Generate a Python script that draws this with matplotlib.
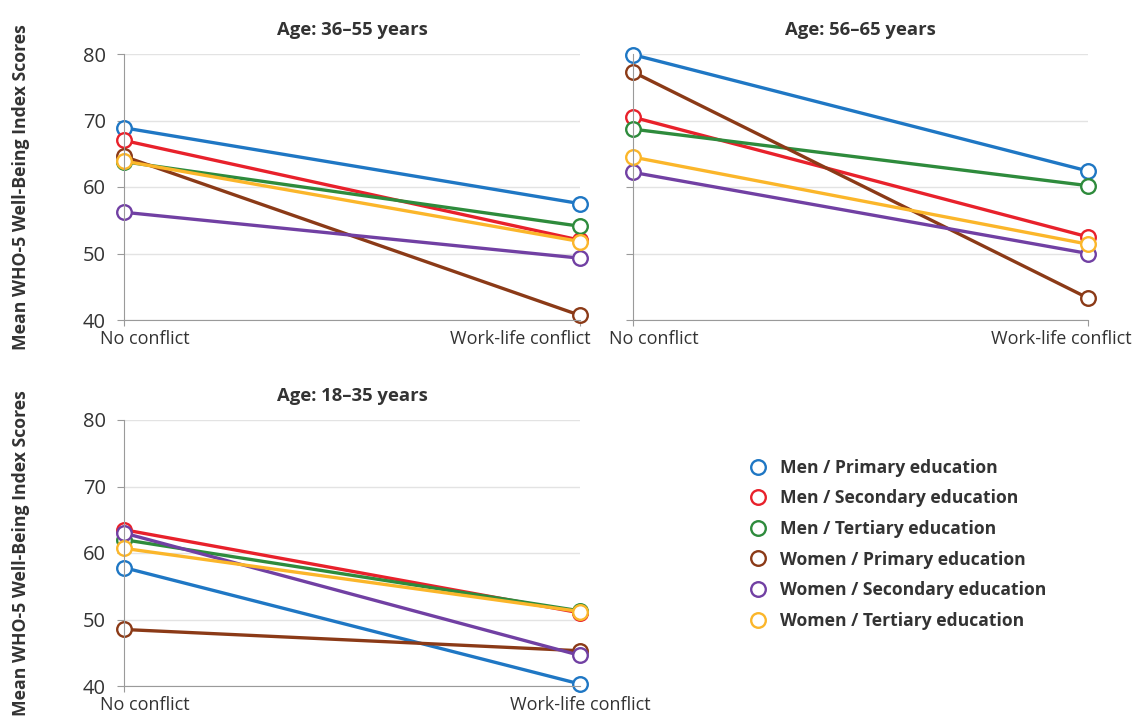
import matplotlib
matplotlib.use('Agg')
import matplotlib.pyplot as plt
from matplotlib.transforms import ScaledTranslation

plt.rcParams['font.family'] = ['Open Sans', 'DejaVu Sans']

conditions = ['No conflict', 'Work-life conflict']
groups = ['Men / Primary education', 'Men / Secondary education', 'Men / Tertiary education',
          'Women / Primary education', 'Women / Secondary education', 'Women / Tertiary education']
colors = ['#1f77c4', '#e8212b', '#2e8b3c', '#8b3a17', '#7140a3', '#fbb62a']

age_36_55 = [[68.9, 57.5], [67.0, 52.0], [63.8, 54.1], [64.6, 40.7], [56.2, 49.3], [63.9, 51.8]]
age_56_65 = [[79.9, 62.4], [70.5, 52.5], [68.7, 60.2], [77.3, 43.3], [62.2, 50.0], [64.5, 51.4]]
age_18_35 = [[57.8, 40.3], [63.5, 51.0], [62.0, 51.3], [48.5, 45.3], [63.0, 44.6], [60.7, 51.2]]

fig = plt.figure(figsize=(11.37, 7.2), dpi=100)

W, H = 1137, 720
panels = [
    ('Age: 36\u201355 years', age_36_55, [124, 54, 580, 320], (21, -60), True),
    ('Age: 56\u201365 years', age_56_65, [633, 54, 1088, 320], (21, -27), False),
    ('Age: 18\u201335 years', age_18_35, [124, 420, 580, 686], (21, 0), True),
]

axes = []
for title, data, (x0, y0, x1, y1), shifts, show_y in panels:
    ax = fig.add_axes([x0 / W, 1 - y1 / H, (x1 - x0) / W, (y1 - y0) / H])
    for vals, col, name in zip(data, colors, groups):
        ax.plot([0, 1], vals, '-o', color=col, lw=2.4, ms=10.5, mfc='white', mew=1.7,
                clip_on=False, label=name)
    ax.set_xlim(0, 1)
    ax.set_ylim(40, 80)
    ax.set_yticks([40, 50, 60, 70, 80])
    ax.set_xticks([0, 1])
    ax.set_xticklabels(conditions)
    ax.yaxis.grid(True, color='#e3e3e3', lw=1)
    ax.set_axisbelow(True)
    for s in ['top', 'right']:
        ax.spines[s].set_visible(False)
    ax.spines['left'].set_color('#9a9a9a')
    ax.spines['bottom'].set_color('#9a9a9a')
    ax.tick_params(axis='both', colors='#9a9a9a', labelcolor='#333333', length=5)
    ax.tick_params(axis='y', labelsize=14.5, pad=8, labelleft=show_y)
    ax.tick_params(axis='x', labelsize=13, length=4, pad=3)
    for lab, dx in zip(ax.get_xticklabels(), shifts):
        lab.set_transform(lab.get_transform() + ScaledTranslation(dx / 100, 0, fig.dpi_scale_trans))
    ax.set_title(title, fontsize=13.3, fontweight='bold', color='#333333', pad=14)
    axes.append(ax)

for ax in [axes[0], axes[2]]:
    ax.set_ylabel('Mean WHO-5 Well-Being Index Scores', fontsize=12.7, fontweight='bold',
                  color='#333333', labelpad=38)

handles, labels = axes[0].get_legend_handles_labels()
leg = fig.legend(handles, labels, loc='upper left', bbox_to_anchor=(742 / W, 1 - 443 / H),
                 frameon=False, handlelength=0, handletextpad=1.25, labelspacing=0.72,
                 prop={'size': 12.6, 'weight': 'bold'})
for line in leg.get_lines():
    line.set_linestyle('none')
for t in leg.get_texts():
    t.set_color('#333333')

fig.savefig('out.png', dpi=100)
